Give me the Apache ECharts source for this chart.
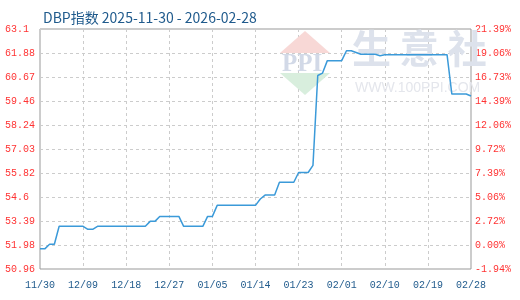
<!DOCTYPE html>
<html><head><meta charset="utf-8">
<script src="https://cdn.jsdelivr.net/npm/echarts@6/dist/echarts.min.js"></script>
<style>html,body{margin:0;padding:0;background:#fff}#c{width:520px;height:300px}</style>
</head><body><div id="c"></div>
<script>
const titleText = 'DBP指数 2025-11-30 - 2026-02-28';
const dates = ['11/30',
'12/01','12/02','12/03','12/04','12/05','12/06','12/07','12/08','12/09','12/10',
'12/11','12/12','12/13','12/14','12/15','12/16','12/17','12/18','12/19','12/20',
'12/21','12/22','12/23','12/24','12/25','12/26','12/27','12/28','12/29','12/30','12/31',
'01/01','01/02','01/03','01/04','01/05','01/06','01/07','01/08','01/09','01/10',
'01/11','01/12','01/13','01/14','01/15','01/16','01/17','01/18','01/19','01/20',
'01/21','01/22','01/23','01/24','01/25','01/26','01/27','01/28','01/29','01/30','01/31',
'02/01','02/02','02/03','02/04','02/05','02/06','02/07','02/08','02/09','02/10',
'02/11','02/12','02/13','02/14','02/15','02/16','02/17','02/18','02/19','02/20',
'02/21','02/22','02/23','02/24','02/25','02/26','02/27','02/28'];
const values = [
51.98,51.98,52.21,52.21,53.12,53.12,53.12,53.12,53.12,53.12,
52.97,52.97,53.12,53.12,53.12,53.12,53.12,53.12,53.12,53.12,
53.12,53.12,53.12,53.37,53.37,53.62,53.62,53.62,53.62,53.62,
53.12,53.12,53.12,53.12,53.12,53.62,53.62,54.18,54.18,54.18,
54.18,54.18,54.18,54.18,54.18,54.18,54.50,54.70,54.70,54.70,
55.35,55.35,55.35,55.35,55.84,55.84,55.84,56.20,60.75,60.87,
61.50,61.50,61.50,61.50,62.00,62.00,61.91,61.82,61.82,61.82,
61.82,61.75,61.80,61.80,61.80,61.80,61.80,61.80,61.80,61.80,
61.80,61.80,61.80,61.80,61.80,61.80,59.81,59.81,59.81,59.81,
59.71];
const leftTicks = ['50.96','51.98','53.39','54.6','55.82','57.03','58.24','59.46','60.67','61.88','63.1'];
const rightTicks = ['-1.94%','0.00%','2.72%','5.06%','7.39%','9.72%','12.06%','14.39%','16.73%','19.06%','21.39%'];
const yMin = 50.96, yMax = 63.1;

function tickColor(i){ return i===0 ? '#22aa22' : (i===1 ? '#000000' : '#ff3333'); }
const chart = echarts.init(document.getElementById('c'), null, {renderer:'canvas'});
const monoFont = 'Liberation Mono';
chart.setOption({
  animation:false,
  backgroundColor:'#ffffff',
  title:{text:titleText,left:38,top:6,textStyle:{color:'#1f5a8c',fontSize:14,fontWeight:'normal',fontFamily:'Noto Sans CJK SC'}},
  grid:{left:40,right:49,top:29,bottom:31,show:true,borderColor:'#999',borderWidth:1,backgroundColor:'transparent'},
  graphic:[
    {type:'polygon',z:1,shape:{points:[[305,31],[280,53],[330,53]]},style:{fill:'#f8d8d6'}},
    {type:'polygon',z:1,shape:{points:[[280,73],[330,73],[305,95]]},style:{fill:'#d8eedd'}},
    {type:'text',z:1,left:282,top:52,style:{text:'PPI',fill:'#d2d9e7',font:'bold 25px "Liberation Serif"'}},
    {type:'text',z:1,left:352,top:29,style:{text:'生 意 社',fill:'#dde2ec',font:'bold 39px "Noto Sans CJK SC"'}},
    {type:'text',z:1,left:355,top:81,style:{text:'WWW.100PPI.COM',fill:'#e4e6ec',font:'14px "Liberation Sans"'}}
  ],
  xAxis:{type:'category',data:dates,boundaryGap:false,
    axisLine:{show:false},axisTick:{show:false},
    axisLabel:{interval:8,margin:11,color:'#1f5a8c',fontSize:10,fontFamily:monoFont},
    splitLine:{show:true,interval:8,lineStyle:{color:'#cccccc',type:[3,3],width:1}}},
  yAxis:[
    {type:'value',min:0,max:10,interval:1,position:'left',
      axisLine:{show:false},axisTick:{show:false},
      axisLabel:{margin:35,align:'left',fontSize:10,fontFamily:monoFont,
        formatter:(v)=>leftTicks[v],color:(v)=>tickColor(leftTicks.indexOf(v))},
      splitLine:{show:true,lineStyle:{color:'#cccccc',type:[3,3],width:1}}},
    {type:'value',min:0,max:10,interval:1,position:'right',
      axisLine:{show:false},axisTick:{show:false},
      axisLabel:{margin:4,fontSize:10,fontFamily:monoFont,
        formatter:(v)=>rightTicks[v],color:(v)=>tickColor(rightTicks.indexOf(v))},
      splitLine:{show:false}},
    {type:'value',min:yMin,max:yMax,show:false,splitLine:{show:false}}
  ],
  series:[{type:'line',yAxisIndex:2,data:values,symbol:'none',z:5,
    lineStyle:{color:'#3b9ad9',width:1.5}}]
});
</script></body></html>
